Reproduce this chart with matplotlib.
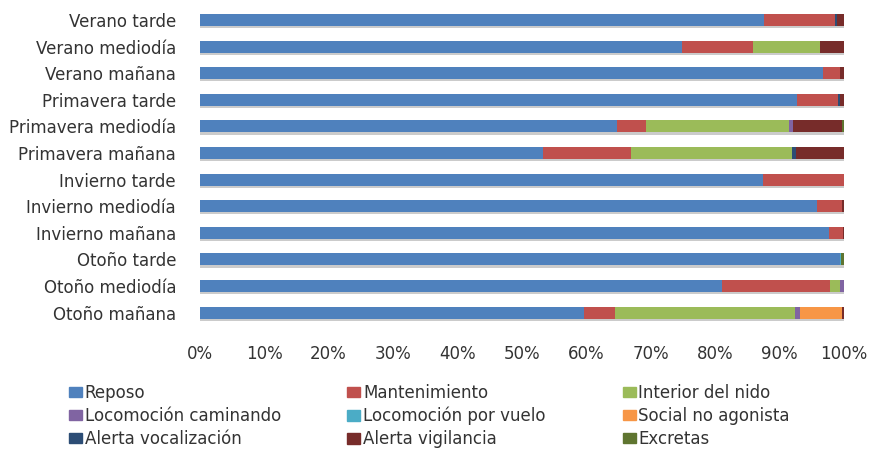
import matplotlib
matplotlib.use('Agg')
import matplotlib.pyplot as plt
import matplotlib.patheffects as pe
from matplotlib.patches import Patch
import numpy as np

plt.rcParams['font.family'] = ['DejaVu Sans']

# rows bottom -> top
periods = ['Otoño mañana', 'Otoño mediodía', 'Otoño tarde',
           'Invierno mañana', 'Invierno mediodía', 'Invierno tarde',
           'Primavera mañana', 'Primavera mediodía', 'Primavera tarde',
           'Verano mañana', 'Verano mediodía', 'Verano tarde']

categories = ['Reposo', 'Mantenimiento', 'Interior del nido',
              'Locomoción caminando', 'Locomoción por vuelo', 'Social no agonista',
              'Alerta vocalización', 'Alerta vigilancia', 'Excretas']

colors = ['#4F81BD', '#C0504D', '#9BBB59', '#8064A2', '#4BACC6',
          '#F79646', '#2C4D75', '#772C2A', '#5F7530']

# percentages per category, same order as periods
reposo        = [59.7, 81.1, 99.3, 97.7, 95.8, 87.4, 53.2, 64.7, 92.7, 96.8, 74.8, 87.6]
mantenimiento = [4.7, 16.7, 0.0, 2.1, 3.9, 12.6, 13.7, 4.6, 6.4, 2.6, 11.0, 11.0]
interior_nido = [28.0, 1.6, 0.0, 0.0, 0.0, 0.0, 25.0, 22.1, 0.0, 0.0, 10.5, 0.0]
loc_caminando = [0.8, 0.6, 0.0, 0.0, 0.0, 0.0, 0.0, 0.7, 0.0, 0.0, 0.0, 0.0]
loc_vuelo     = [0.0, 0.0, 0.2, 0.0, 0.0, 0.0, 0.0, 0.0, 0.0, 0.0, 0.0, 0.0]
social        = [6.5, 0.0, 0.0, 0.0, 0.0, 0.0, 0.0, 0.0, 0.0, 0.0, 0.0, 0.0]
alerta_vocal  = [0.0, 0.0, 0.0, 0.0, 0.0, 0.0, 0.7, 0.0, 0.2, 0.0, 0.0, 0.3]
alerta_vigil  = [0.3, 0.0, 0.0, 0.2, 0.3, 0.0, 7.4, 7.6, 0.7, 0.6, 3.7, 1.1]
excretas      = [0.0, 0.0, 0.5, 0.0, 0.0, 0.0, 0.0, 0.3, 0.0, 0.0, 0.0, 0.0]

series = [reposo, mantenimiento, interior_nido, loc_caminando, loc_vuelo,
          social, alerta_vocal, alerta_vigil, excretas]

text_col = '#333333'

fig = plt.figure(figsize=(8.72, 4.49), dpi=100)
ax = fig.add_axes([0.229, 0.274, 0.739, 0.711])

y = np.arange(len(periods))
left = np.zeros(len(periods))
shadow = [pe.SimplePatchShadow(offset=(0.5, -1.5), shadow_rgbFace='#999999', alpha=0.5), pe.Normal()]
for vals, col in zip(series, colors):
    vals = np.array(vals)
    bars = ax.barh(y, vals, left=left, height=0.45, color=col, linewidth=0)
    for b in bars:
        b.set_path_effects(shadow)
    left += vals

ax.set_xlim(0, 100)
ax.set_ylim(-0.5, len(periods) - 0.5)
ax.set_yticks(y)
ax.set_yticklabels(periods, fontsize=12, color=text_col)
ax.set_xticks(np.arange(0, 101, 10))
ax.set_xticklabels([f'{v}%' for v in range(0, 101, 10)], fontsize=12, color=text_col)
ax.tick_params(length=0)
ax.tick_params(axis='x', pad=14)
ax.tick_params(axis='y', pad=17)
for s in ax.spines.values():
    s.set_visible(False)

handles = [Patch(color=c, label=l) for c, l in zip(colors, categories)]
xpos = [0.079, 0.398, 0.714]
for i, xp in enumerate(xpos):
    leg = fig.legend(handles=handles[i::3], loc='upper left', bbox_to_anchor=(xp, 0.145),
                     ncol=1, frameon=False, fontsize=12, handlelength=0.8, handleheight=0.55,
                     handletextpad=0.15, labelspacing=0.3, borderaxespad=0, borderpad=0)
    for t in leg.get_texts():
        t.set_color(text_col)

fig.savefig('out.png', dpi=100)
